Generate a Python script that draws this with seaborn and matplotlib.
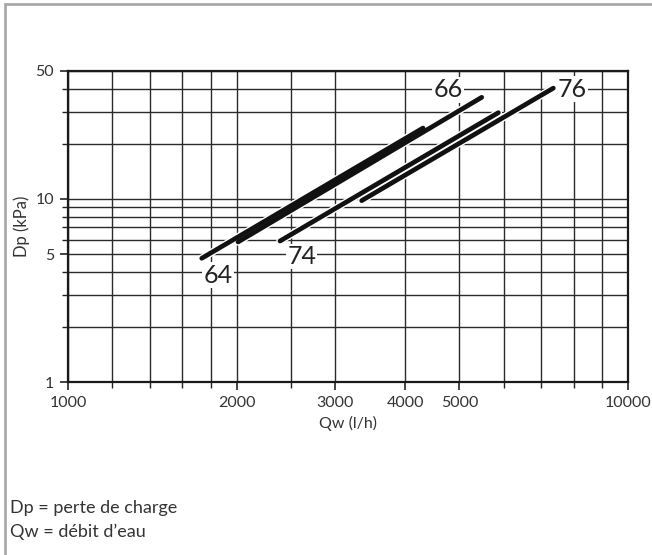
import numpy as np
import pandas as pd
import matplotlib.pyplot as plt
import seaborn as sns
from matplotlib.lines import Line2D

# Pressure drop curves (start / end of each straight segment)
models = ['64', '66', '74', '76']
qw_start = [1733, 2012, 2391, 3345]
qw_end = [4305, 5480, 5868, 7356]
dp_start = [4.74, 5.82, 5.89, 9.79]
dp_end = [24.4, 35.9, 29.6, 40.3]

# Where the curve names sit
label_qw = [1854, 4772, 2614, 7937]
label_dp = [3.84, 39.4, 4.84, 39.8]

x_major = [1000, 2000, 3000, 4000, 5000, 10000]
x_minor = [1200, 1400, 1600, 1800, 2500, 6000, 7000, 8000, 9000]
y_major = [1, 5, 10, 50]
y_minor = [2, 3, 4, 6, 7, 8, 9, 20, 30, 40]

notes = ['Dp = perte de charge', 'Qw = débit d\u2019eau']

rows = []
for i, m in enumerate(models):
    rows.append({'model': m, 'qw': qw_start[i], 'dp': dp_start[i]})
    rows.append({'model': m, 'qw': qw_end[i], 'dp': dp_end[i]})
df = pd.DataFrame(rows)

sns.set_style('white')
plt.rcParams['font.family'] = ['Lato', 'DejaVu Sans']

fig = plt.figure(figsize=(6.52, 5.55), dpi=100)
ax = fig.add_axes([68 / 652, 1 - 382 / 555, 560 / 652, 311 / 555])

# white halo under all curves first
for m in models:
    sub = df[df['model'] == m]
    ax.plot(sub['qw'], sub['dp'], color='white', lw=5.4, solid_capstyle='round', zorder=3)

sns.lineplot(data=df, x='qw', y='dp', hue='model', palette=['#111111'] * 4,
             linewidth=3.4, legend=False, estimator=None, sort=False, ax=ax, zorder=4)
for line in ax.get_lines():
    line.set_solid_capstyle('round')

ax.set_xscale('log')
ax.set_yscale('log')
ax.set_xlim(1000, 10000)
ax.set_ylim(1, 50)

ax.set_xticks(x_major)
ax.set_xticks(x_minor, minor=True)
ax.set_xticklabels([str(v) for v in x_major])
ax.set_xticklabels([], minor=True)
ax.set_yticks(y_major)
ax.set_yticks(y_minor, minor=True)
ax.set_yticklabels([str(v) for v in y_major])
ax.set_yticklabels([], minor=True)

ax.grid(True, which='both', color='#2a2a2a', linewidth=1.0)
ax.tick_params(which='major', direction='out', length=6, width=1.2, color='#222222',
               labelsize=11.5, labelcolor='#333333', pad=4, bottom=True, left=True)
ax.tick_params(which='minor', direction='out', length=4, width=1.0, color='#222222',
               bottom=True, left=True)
for s in ax.spines.values():
    s.set_visible(True)
    s.set_color('#1a1a1a')
    s.set_linewidth(1.6)

ax.set_xlabel('Qw (l/h)', fontsize=11.5, color='#333333', labelpad=4)
ax.set_ylabel('Dp (kPa)', fontsize=12, color='#333333', labelpad=4)

for m, xq, yd in zip(models, label_qw, label_dp):
    ax.text(xq, yd, m, fontsize=18, color='#222222', ha='center', va='center', zorder=5,
            bbox=dict(boxstyle='square,pad=0.05', fc='white', ec='none'))

fig.text(10 / 652, 1 - 508 / 555, notes[0], fontsize=13, color='#333333', va='center')
fig.text(10 / 652, 1 - 532 / 555, notes[1], fontsize=13, color='#333333', va='center')

# grey frame on top and left edge
fig.add_artist(Line2D([5 / 652, 1.0], [1 - 4 / 555, 1 - 4 / 555], color='#aaaaaa', lw=2,
                      transform=fig.transFigure))
fig.add_artist(Line2D([5 / 652, 5 / 652], [0, 1 - 4 / 555], color='#aaaaaa', lw=2,
                      transform=fig.transFigure))

fig.savefig('out.png', dpi=100)
